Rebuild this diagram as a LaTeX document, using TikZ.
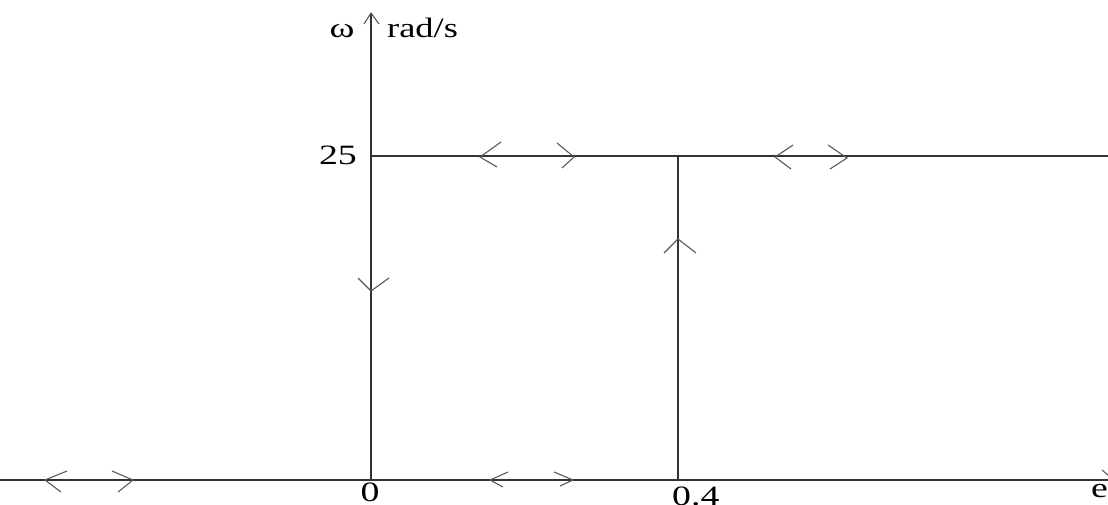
\documentclass[tikz,border=0pt]{standalone}
\usepackage{fontspec}
\setmainfont{Liberation Serif}
\begin{document}
\begin{tikzpicture}[x=1pt,y=-1pt,
  axis/.style={draw=black!80, line width=1.3pt},
  wing/.style={draw=black!65, line width=1.1pt},
  lbl/.style={inner sep=0pt, font=\fontsize{28}{31}\selectfont}]
\useasboundingbox (0,0) rectangle (1108,505);
% key points
\coordinate (O) at (371,480);
\coordinate (Ytop) at (371,13);
\coordinate (Xl) at (0,480);
\coordinate (Xr) at (1108,480);
\coordinate (P25) at (371,156);
\coordinate (R25) at (1108,156);
\coordinate (Q) at (678,156);
\coordinate (Qb) at (678,480);
% axes and trajectory lines
\draw[axis] (Xl) -- (Xr);
\draw[axis] (O) -- (Ytop);
\draw[axis] (P25) -- (R25);
\draw[axis] (Qb) -- (Q);
% top arrowhead of omega axis
\draw[wing] (364,24) -- (Ytop) -- (379,24);
% arrow marks on omega = 25 line
\draw[wing] (501,142) -- (480,157) -- (497,167);
\draw[wing] (557,143) -- (574,157) -- (562,168);
\draw[wing] (793,145) -- (775,157) -- (791,169);
\draw[wing] (828,145) -- (847,158) -- (830,169);
% arrow on omega axis (down)
\draw[wing] (358,278) -- (371,291) -- (389,278);
% arrow on e = 0.4 line (up)
\draw[wing] (664,253) -- (678,239) -- (696,253);
% arrow marks on e axis
\draw[wing] (67,471) -- (45,480) -- (61,492);
\draw[wing] (112,471) -- (133,480) -- (118,492);
\draw[wing] (508,472) -- (490,480) -- (503,487);
\draw[wing] (554,472) -- (573,480) -- (560,486);
\draw[wing] (1102,470) -- (1109,476);
% labels
\node[lbl, anchor=base] (w) at (342,38) {\scalebox{1.35}[1]{ω}};
\node[lbl, anchor=base west] (u) at (387,38) {\scalebox{1.3}[1]{rad/s}};
\node[lbl, anchor=base east] (l25) at (357,165) {\scalebox{1.35}[1]{25}};
\node[lbl, anchor=base] (l0) at (370,501) {\scalebox{1.35}[1]{0}};
\node[lbl, anchor=base west] (l04) at (672,505) {\scalebox{1.35}[1]{0.4}};
\node[lbl, anchor=base west] (le) at (1091,497) {\scalebox{1.35}[1]{e}};
\end{tikzpicture}
\end{document}
